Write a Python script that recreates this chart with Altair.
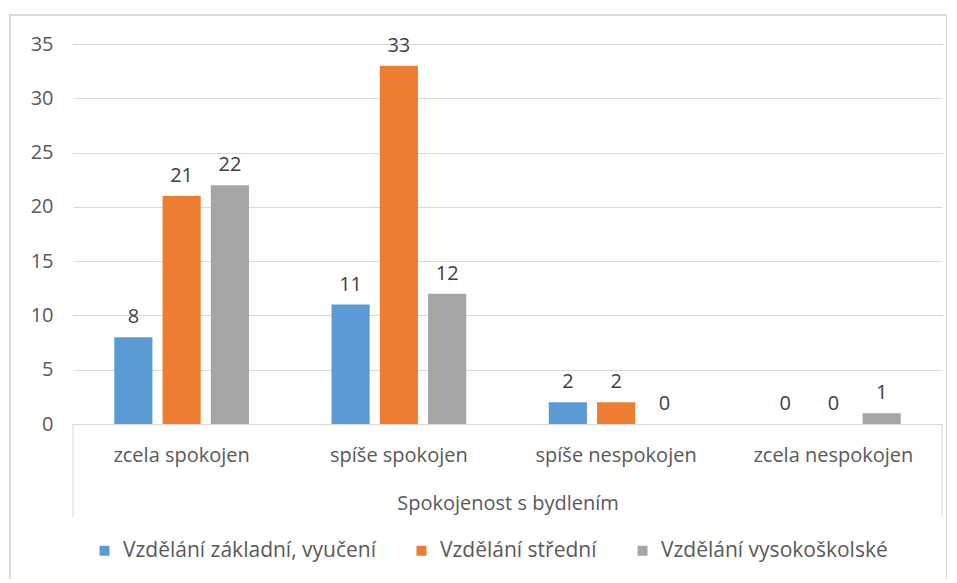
import altair as alt
import pandas as pd

categories = ["zcela spokojen", "spíše spokojen", "spíše nespokojen", "zcela nespokojen"]
series = ["Vzdělání základní, vyučení", "Vzdělání střední", "Vzdělání vysokoškolské"]
zakladni = [8, 11, 2, 0]
stredni = [21, 33, 2, 0]
vysoko = [22, 12, 0, 1]
colors = ["#5B9BD5", "#ED7D31", "#A5A5A5"]
y_ticks = [0, 5, 10, 15, 20, 25, 30, 35]

rows = []
for s, vals in zip(series, [zakladni, stredni, vysoko]):
    for c, v in zip(categories, vals):
        rows.append({"kat": c, "serie": s, "hodnota": v})
df = pd.DataFrame(rows)

FONT = "Open Sans"
GRAY = "#595959"
FS = 20

base = alt.Chart(df).encode(
    x=alt.X("kat:N", sort=categories,
            scale=alt.Scale(paddingInner=0.38, paddingOuter=0.19),
            axis=alt.Axis(title="Spokojenost s bydlením", labelAngle=0, ticks=False,
                          labelPadding=21, titlePadding=28, domainColor="#d9d9d9",
                          domainWidth=1)),
    xOffset=alt.XOffset("serie:N", sort=series,
                        scale=alt.Scale(paddingInner=0.21, paddingOuter=0)),
    y=alt.Y("hodnota:Q", scale=alt.Scale(domain=[0, 35], nice=False),
            axis=alt.Axis(title=None, values=y_ticks, domain=False, ticks=False,
                          labelPadding=20, gridColor="#d9d9d9", gridWidth=1)),
)

bars = base.mark_bar().encode(
    color=alt.Color("serie:N", sort=series,
                    scale=alt.Scale(domain=series, range=colors),
                    legend=alt.Legend(title=None, orient="none", direction="horizontal",
                                      legendX=21, legendY=496, symbolType="square",
                                      symbolSize=100, symbolStrokeWidth=0,
                                      columnPadding=35, labelOffset=8, labelLimit=0))
)

text = base.mark_text(dy=-10, baseline="bottom", fontSize=FS, font=FONT, color="#404040").encode(
    text="hodnota:Q"
)

deco_df = pd.DataFrame({"a": [0]})
frame = alt.Chart(deco_df).mark_rect(fillOpacity=0, stroke="#d9d9d9", strokeWidth=2).encode(
    x=alt.value(-63), x2=alt.value(874), y=alt.value(-29), y2=alt.value(560)
)
rule_l = alt.Chart(deco_df).mark_rule(color="#d9d9d9").encode(
    x=alt.value(0), y=alt.value(380), y2=alt.value(473)
)
rule_r = alt.Chart(deco_df).mark_rule(color="#d9d9d9").encode(
    x=alt.value(869), y=alt.value(380), y2=alt.value(473)
)

chart = alt.layer(frame, rule_l, rule_r, bars, text).properties(
    width=869, height=380,
    padding={"left": 65, "top": 36, "right": 5, "bottom": 155},
    autosize=alt.AutoSizeParams(type="none"),
    background="white",
).configure_axis(
    labelFont=FONT, labelFontSize=FS, labelColor=GRAY,
    titleFont=FONT, titleFontSize=FS, titleColor=GRAY, titleFontWeight="normal",
).configure_legend(
    labelFont=FONT, labelFontSize=21, labelColor=GRAY,
).configure_view(stroke=None)

chart.save("out.html", embed_options={"renderer": "svg", "actions": False})
